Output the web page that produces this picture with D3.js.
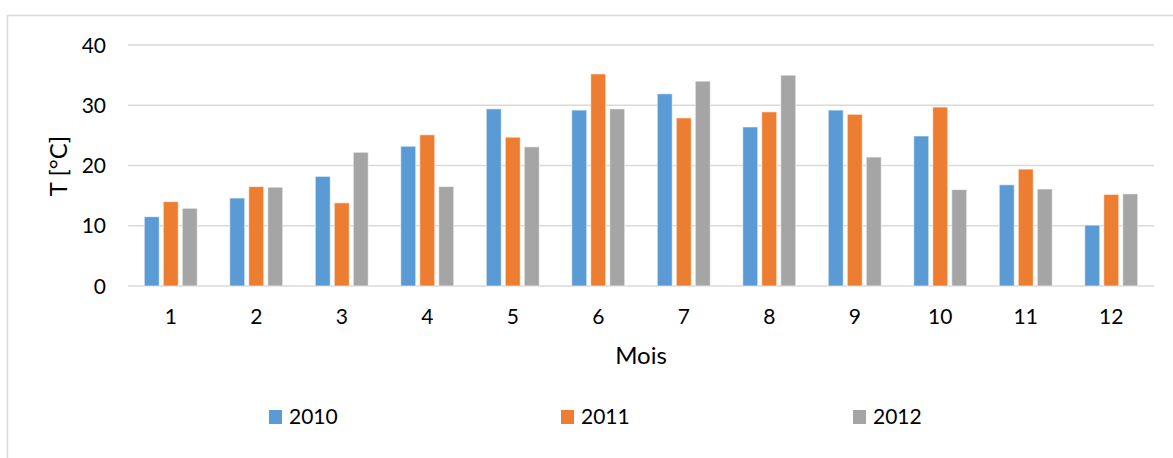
<!DOCTYPE html>
<html>
<head>
<meta charset="utf-8">
<script src="https://cdn.jsdelivr.net/npm/d3@7"></script>
<style>
  html, body { margin: 0; padding: 0; background: #ffffff; }
  svg { display: block; }
  text { font-family: Lato, "Open Sans", sans-serif; fill: #000; }
</style>
</head>
<body>
<svg id="chart" width="1173" height="458"></svg>
<script>
// Monthly temperatures (°C) per year
const months = ["1", "2", "3", "4", "5", "6", "7", "8", "9", "10", "11", "12"];
const seriesNames = ["2010", "2011", "2012"];
const values2010 = [11.5, 14.6, 18.2, 23.2, 29.4, 29.2, 31.9, 26.4, 29.2, 24.9, 16.8, 10.1];
const values2011 = [14.0, 16.5, 13.8, 25.1, 24.7, 35.2, 27.9, 28.9, 28.5, 29.7, 19.4, 15.2];
const values2012 = [12.9, 16.4, 22.2, 16.5, 23.1, 29.4, 34.0, 35.0, 21.4, 16.0, 16.1, 15.3];
const yTicks = [0, 10, 20, 30, 40];
const colors = ["#5b9bd5", "#ed7d31", "#a5a5a5"];

const seriesValues = [values2010, values2011, values2012];

const svg = d3.select("#chart");

// Chart frame
svg.append("path")
  .attr("d", "M7.5,465 L7.5,15.5 L1180,15.5")
  .attr("fill", "none")
  .attr("stroke", "#d9d9d9")
  .attr("stroke-width", 1.5);

const plot = { left: 128, right: 1154, top: 45, bottom: 286 };

const x0 = d3.scaleBand().domain(months).range([plot.left, plot.right]).padding(0);
const groupWidth = 57;
const x1 = d3.scaleBand().domain(seriesNames).range([0, groupWidth])
  .paddingInner(4 / 19).paddingOuter(2 / 19);
const y = d3.scaleLinear().domain([0, 40]).range([plot.bottom, plot.top]);

// Horizontal gridlines
svg.append("g")
  .selectAll("line")
  .data(yTicks)
  .join("line")
  .attr("x1", plot.left)
  .attr("x2", plot.right)
  .attr("y1", d => y(d))
  .attr("y2", d => y(d))
  .attr("stroke", "#d9d9d9")
  .attr("stroke-width", 1.5);

// Y tick labels
svg.append("g")
  .selectAll("text")
  .data(yTicks)
  .join("text")
  .attr("x", 106)
  .attr("y", d => y(d))
  .attr("dy", "0.36em")
  .attr("text-anchor", "end")
  .attr("font-size", 21)
  .text(d => d);

// Bars
const groups = svg.append("g")
  .selectAll("g")
  .data(months)
  .join("g")
  .attr("transform", m => `translate(${x0(m) + x0.bandwidth() / 2 - groupWidth / 2},0)`);

groups.selectAll("rect")
  .data((m, i) => seriesNames.map((s, k) => ({ s, k, v: seriesValues[k][i] })))
  .join("rect")
  .attr("x", d => x1(d.s))
  .attr("width", x1.bandwidth())
  .attr("y", d => y(d.v))
  .attr("height", d => y(0) - y(d.v))
  .attr("fill", d => colors[d.k])
  .attr("stroke", "#ffffff")
  .attr("stroke-opacity", 0.6)
  .attr("stroke-width", 1);

// X tick labels
svg.append("g")
  .selectAll("text")
  .data(months)
  .join("text")
  .attr("x", m => x0(m) + x0.bandwidth() / 2)
  .attr("y", 324)
  .attr("text-anchor", "middle")
  .attr("font-size", 21)
  .text(m => m);

// Axis titles
svg.append("text")
  .attr("x", (plot.left + plot.right) / 2)
  .attr("y", 364)
  .attr("text-anchor", "middle")
  .attr("font-size", 24)
  .text("Mois");

svg.append("text")
  .attr("transform", "translate(67,166) rotate(-90)")
  .attr("text-anchor", "middle")
  .attr("font-size", 24)
  .text("T [°C]");

// Legend
const legendX = [269, 561, 853];
const legend = svg.append("g")
  .selectAll("g")
  .data(seriesNames)
  .join("g")
  .attr("transform", (s, i) => `translate(${legendX[i]},410)`);

legend.append("rect")
  .attr("width", 13)
  .attr("height", 14)
  .attr("fill", (s, i) => colors[i]);

legend.append("text")
  .attr("x", 20)
  .attr("y", 14)
  .attr("font-size", 21)
  .text(s => s);
</script>
</body>
</html>
